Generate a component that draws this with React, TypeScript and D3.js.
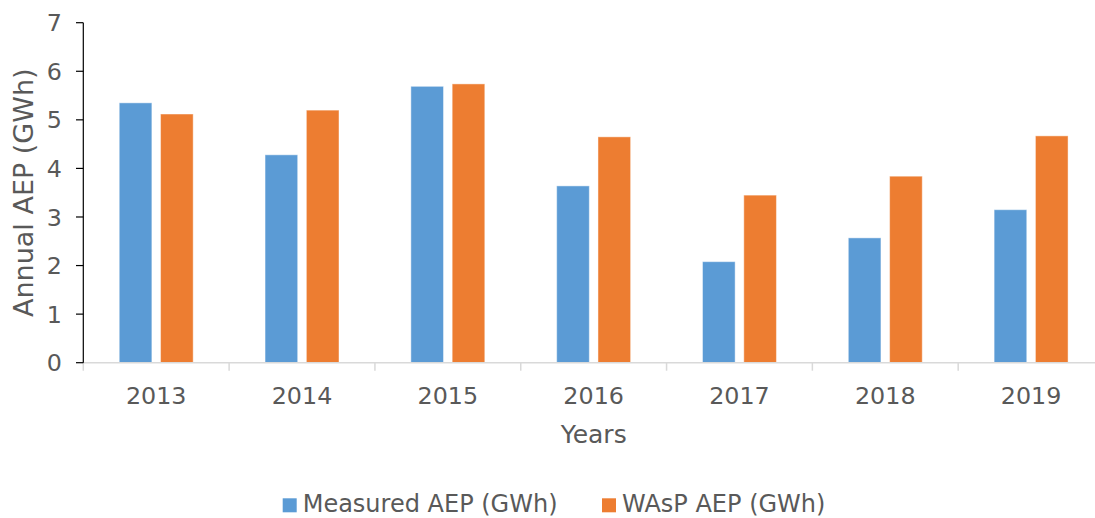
import React from "react";
import * as d3 from "d3";

const categories = ["2013", "2014", "2015", "2016", "2017", "2018", "2019"];
const seriesNames = ["Measured AEP (GWh)", "WAsP AEP (GWh)"];
const measured = [5.35, 4.28, 5.69, 3.64, 2.08, 2.57, 3.15];
const wasp = [5.12, 5.2, 5.74, 4.65, 3.45, 3.84, 4.67];
const yTicks = [0, 1, 2, 3, 4, 5, 6, 7];
const colors = ["#5b9bd5", "#ed7d31"];

const W = 1095;
const H = 518;
const FONT = "'DejaVu Sans', Verdana, sans-serif";
const TEXT = "#595959";

export default function App() {
  const x = d3.scaleBand<string>().domain(categories).range([83.3, 1104]).paddingInner(0).paddingOuter(0);
  const inner = d3.scaleBand<string>().domain(seriesNames).range([0, x.bandwidth()]).paddingInner(0.21).paddingOuter(0.87);
  const y = d3.scaleLinear().domain([0, 7]).range([362.7, 22.7]);
  const values = [measured, wasp];
  const boundaries = categories.map((c) => x(c) as number).concat([1104]);

  return (
    <svg width={W} height={H} style={{ position: "absolute", left: 0, top: 0, background: "#fff" }} fontFamily={FONT}>
      {/* bars */}
      {seriesNames.map((s, si) =>
        categories.map((c, ci) => (
          <rect
            key={s + c}
            x={(x(c) as number) + (inner(s) as number)}
            y={y(values[si][ci])}
            width={inner.bandwidth()}
            height={y(0) - y(values[si][ci])}
            fill={colors[si]}
            stroke="#ffffff"
            strokeOpacity={0.45}
            strokeWidth={1}
          />
        ))
      )}
      {/* x axis */}
      <line x1={83.3} x2={1104} y1={y(0)} y2={y(0)} stroke="#d9d9d9" strokeWidth={1.5} />
      {boundaries.map((b, i) => (
        <line key={"xt" + i} x1={b} x2={b} y1={y(0)} y2={y(0) + 8} stroke="#d9d9d9" strokeWidth={1.5} />
      ))}
      {categories.map((c) => (
        <text key={"xl" + c} x={(x(c) as number) + x.bandwidth() / 2} y={404} textAnchor="middle" fontSize={23.8} fill={TEXT}>
          {c}
        </text>
      ))}
      {/* y axis */}
      <line x1={83.3} x2={83.3} y1={y(7)} y2={y(0)} stroke="#000" strokeWidth={1.2} />
      {yTicks.map((t) => (
        <g key={"yt" + t}>
          <line x1={76} x2={83.3} y1={y(t)} y2={y(t)} stroke="#000" strokeWidth={1.2} />
          <text x={62} y={y(t)} dy="0.36em" textAnchor="end" fontSize={23.8} fill={TEXT}>
            {t}
          </text>
        </g>
      ))}
      {/* axis titles */}
      <text x={593.7} y={443} textAnchor="middle" fontSize={25} fill={TEXT}>
        Years
      </text>
      <text transform={`translate(33.3, ${(y(0) + y(7)) / 2}) rotate(-90)`} textAnchor="middle" fontSize={27} fill={TEXT}>
        Annual AEP (GWh)
      </text>
      {/* legend */}
      {seriesNames.map((s, i) => {
        const lx = i === 0 ? 282.7 : 602;
        return (
          <g key={"lg" + s}>
            <rect x={lx} y={498.3} width={14} height={14} fill={colors[i]} />
            <text x={lx + 20} y={511.7} fontSize={24} fill={TEXT}>
              {s}
            </text>
          </g>
        );
      })}
    </svg>
  );
}
